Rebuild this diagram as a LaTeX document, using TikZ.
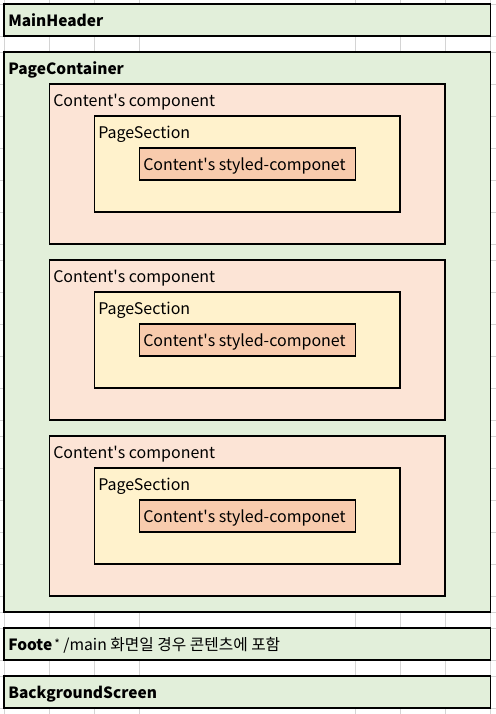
\documentclass[tikz,border=0pt]{standalone}
\usepackage{fontspec}
\setmainfont{Noto Sans CJK KR}
\usetikzlibrary{positioning}
\definecolor{pagegreen}{HTML}{E2EFDA}
\definecolor{comppink}{HTML}{FCE4D6}
\definecolor{secyellow}{HTML}{FFF2CC}
\definecolor{styledorange}{HTML}{F8CBAD}
\definecolor{cellgrid}{HTML}{D4D4D4}

\begin{document}
\begin{tikzpicture}[x=0.75pt,y=-0.75pt,
    box/.style={draw=black, line width=0.9pt},
    gridline/.style={draw=cellgrid, line width=0.75pt},
    lbl/.style={anchor=base west, inner sep=0pt, font=\fontsize{12}{14}\selectfont},
    hd/.style={anchor=base west, inner sep=0pt, font=\fontsize{11.6}{14}\selectfont\bfseries}]
    \useasboundingbox (0,0) rectangle (496,714);

    % sheet grid
    \foreach \x in {4,49.5,94.5,139.5,355.5,400,445,490.5}
        \draw[gridline] (\x,0) -- (\x,714);
    \foreach \y in {4,36,52,84,116,148,180,212,244,260,292,324,356,388,420,436,468,500,532,564,596,612,628,660,676,708}
        \draw[gridline] (0,\y) -- (496,\y);

    \draw[box, fill=pagegreen] (4,4) rectangle (490.5,36);
    \node[hd] (mainhdr) at (8,26) {MainHeader};

    \draw[box, fill=pagegreen] (4,52) rectangle (490.5,612);
    \node[hd] (pagecont) at (8,74) {PageContainer};

    \foreach \t in {84,260,436} {
        \draw[box, fill=comppink] (49.5,\t) rectangle (445,\t+160);
        \node[lbl] (comp\t) at (53,\t+22) {Content\textquotesingle s component};
        \draw[box, fill=secyellow] (94.5,\t+32) rectangle (400,\t+128);
        \node[lbl] (sec\t) at (98,\t+54) {PageSection};
        \draw[box, fill=styledorange] (139.5,\t+64) rectangle (355.5,\t+96);
        \node[lbl] (styled\t) at (143,\t+86) {Content\textquotesingle s styled-componet};
    }

    \draw[box, fill=pagegreen] (4,628) rectangle (490.5,660);
    \node[hd] (footer) at (8,650) {Foote};
    \node[lbl, font=\fontsize{11.8}{14}\selectfont] (footnote) at (54,650) {\raisebox{1pt}{\fontsize{9}{10}\selectfont*} /main 화면일 경우 콘텐츠에 포함};

    \draw[box, fill=pagegreen] (4,676) rectangle (490.5,708);
    \node[hd] (bgscreen) at (8,698) {BackgroundScreen};
\end{tikzpicture}
\end{document}
